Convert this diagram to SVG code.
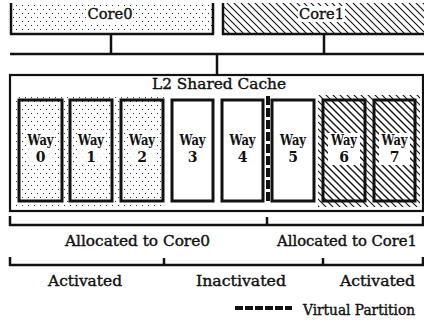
<svg xmlns="http://www.w3.org/2000/svg" width="424" height="325" viewBox="0 0 424 325">
<defs>
<pattern id="dots" patternUnits="userSpaceOnUse" width="6" height="8">
<rect x="1" y="1" width="1" height="1" fill="#333"/>
<rect x="4" y="5" width="1" height="1" fill="#333"/>
</pattern>
<pattern id="hatch" patternUnits="userSpaceOnUse" width="7" height="7">
<path d="M0,0 L7,7 M-1,6 L1,8 M6,-1 L8,1" stroke="#111" stroke-width="1.1" fill="none"/>
</pattern>
</defs>
<style>
.t{font-family:"DejaVu Serif","Liberation Serif",serif;font-size:15px;fill:#111;stroke:#111;stroke-width:0.4;text-anchor:middle}
.s{font-size:14px}
.w{font-family:"DejaVu Serif","Liberation Serif",serif;font-size:14px;font-weight:bold;fill:#111;text-anchor:middle}
.ln{stroke:#111;stroke-width:2.5;fill:none}
.way{stroke:#111;stroke-width:3;}
.bg{fill:#fff}
</style>
<rect width="424" height="325" fill="#fff"/>

<g id="core0">
<rect x="11" y="3" width="202" height="31" fill="url(#dots)"/>
<path class="ln" d="M11,3 V34 H213 V3"/>
<rect class="bg" x="87" y="6" width="46" height="16"/>
<text class="t" x="110" y="19" textLength="45" lengthAdjust="spacingAndGlyphs">Core0</text>
</g>

<g id="core1">
<rect x="223" y="3" width="201" height="31" fill="url(#hatch)"/>
<path class="ln" d="M223,3 V34 H424"/>
<rect class="bg" x="298" y="6" width="47" height="16"/>
<text class="t" x="321.5" y="19" textLength="45" lengthAdjust="spacingAndGlyphs">Core1</text>
</g>

<g id="connectors">
<path class="ln" d="M111,34 V54"/>
<path class="ln" d="M324,34 V54"/>
<path class="ln" d="M10,54 H424"/>
<path class="ln" d="M217,54 V75"/>
</g>

<g id="l2cache">
<rect x="10" y="75" width="413" height="136" fill="#fff" stroke="#111" stroke-width="2.2"/>
<text class="t" x="219" y="89" textLength="134" lengthAdjust="spacingAndGlyphs">L2 Shared Cache</text>
<rect x="15" y="95" width="151" height="112" fill="url(#dots)"/>
<rect x="318" y="95" width="102" height="112" fill="url(#hatch)"/>
</g>

<g id="way0">
<rect class="way" x="19" y="100" width="43" height="101" fill="url(#dots)"/>
<rect class="bg" x="26" y="133" width="29" height="32" opacity="0.85"/>
<text class="w" x="40.5" y="145" textLength="26" lengthAdjust="spacingAndGlyphs">Way</text>
<text class="w" x="40.5" y="162">0</text>
</g>
<g id="way1">
<rect class="way" x="70" y="100" width="42" height="101" fill="url(#dots)"/>
<rect class="bg" x="77" y="133" width="28" height="32" opacity="0.85"/>
<text class="w" x="91" y="145" textLength="26" lengthAdjust="spacingAndGlyphs">Way</text>
<text class="w" x="91" y="162">1</text>
</g>
<g id="way2">
<rect class="way" x="121" y="100" width="42" height="101" fill="url(#dots)"/>
<rect class="bg" x="128" y="133" width="28" height="32" opacity="0.85"/>
<text class="w" x="142" y="145" textLength="26" lengthAdjust="spacingAndGlyphs">Way</text>
<text class="w" x="142" y="162">2</text>
</g>
<g id="way3">
<rect class="way" x="172" y="100" width="41" height="101" fill="#fff"/>
<text class="w" x="192.5" y="145" textLength="26" lengthAdjust="spacingAndGlyphs">Way</text>
<text class="w" x="192.5" y="162">3</text>
</g>
<g id="way4">
<rect class="way" x="222" y="100" width="41" height="101" fill="#fff"/>
<text class="w" x="242.5" y="145" textLength="26" lengthAdjust="spacingAndGlyphs">Way</text>
<text class="w" x="242.5" y="162">4</text>
</g>
<g id="way5">
<rect class="way" x="272" y="100" width="42" height="101" fill="#fff"/>
<text class="w" x="293" y="145" textLength="26" lengthAdjust="spacingAndGlyphs">Way</text>
<text class="w" x="293" y="162">5</text>
</g>
<g id="way6">
<rect class="way" x="323" y="100" width="42" height="101" fill="url(#hatch)"/>
<rect class="bg" x="328" y="133" width="32" height="32"/>
<text class="w" x="344" y="145" textLength="26" lengthAdjust="spacingAndGlyphs">Way</text>
<text class="w" x="344" y="162">6</text>
</g>
<g id="way7">
<rect class="way" x="374" y="100" width="41" height="101" fill="url(#hatch)"/>
<rect class="bg" x="379" y="133" width="31" height="32"/>
<text class="w" x="394.5" y="145" textLength="26" lengthAdjust="spacingAndGlyphs">Way</text>
<text class="w" x="394.5" y="162">7</text>
</g>

<g id="partition">
<path d="M268,96 V204" stroke="#111" stroke-width="4" stroke-dasharray="9 3"/>
</g>

<g id="allocation">
<path class="ln" d="M10,216 V225 H423 V216 M267,217 V225"/>
<text class="t" x="137.5" y="246" textLength="145" lengthAdjust="spacingAndGlyphs">Allocated to Core0</text>
<text class="t s" x="347" y="246" textLength="140" lengthAdjust="spacingAndGlyphs">Allocated to Core1</text>
</g>

<g id="activation">
<path class="ln" d="M10,257 V265 H423 V257 M164,258 V265 M323,258 V265"/>
<text class="t" x="85" y="286" textLength="74" lengthAdjust="spacingAndGlyphs">Activated</text>
<text class="t" x="241" y="286" textLength="90" lengthAdjust="spacingAndGlyphs">Inactivated</text>
<text class="t" x="377.5" y="286" textLength="75" lengthAdjust="spacingAndGlyphs">Activated</text>
</g>

<g id="legend">
<path d="M235,308 H292" stroke="#111" stroke-width="4" stroke-dasharray="8 2"/>
<text class="t s" x="359" y="315" textLength="112" lengthAdjust="spacingAndGlyphs">Virtual Partition</text>
</g>
</svg>
